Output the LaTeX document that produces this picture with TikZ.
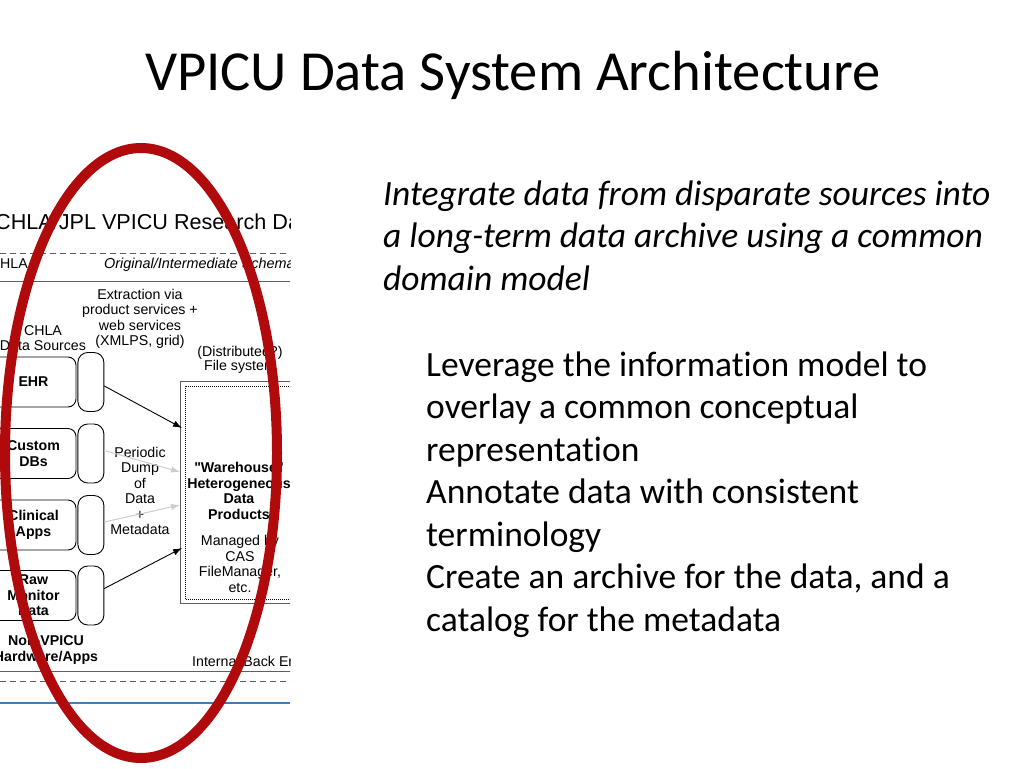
\documentclass[tikz,border=0pt]{standalone}
\usepackage{fontspec}
\setmainfont{Carlito}[Ligatures=NoCommon]
\newfontfamily\diagfont{Liberation Sans}
\usetikzlibrary{arrows.meta, positioning, calc}
\definecolor{ovalred}{RGB}{176,10,12}
\definecolor{rulegray}{RGB}{95,95,95}
\definecolor{dumpgray}{RGB}{205,205,205}
\definecolor{barblue}{RGB}{62,126,182}

\begin{document}
\begin{tikzpicture}[x=1pt,y=-1pt,line cap=round,line join=round,
  every node/.style={inner sep=0pt},
  dtext/.style={font=\diagfont\fontsize{14.2}{15.5}\selectfont, align=center},
  dbold/.style={font=\diagfont\bfseries\fontsize{14.2}{15.5}\selectfont, align=center},
  srcbox/.style={draw, rounded corners=8pt, line width=0.9pt,
    minimum width=85pt, minimum height=50pt},
  capsule/.style={draw, rounded corners=10pt, line width=0.9pt,
    minimum width=26pt, minimum height=59pt},
  rule/.style={rulegray, line width=1pt},
  slidetext/.style={font=\fontsize{35.5}{42.5}\selectfont, align=left, anchor=base west},
  >={Latex[length=9pt,width=6.5pt]}]
  \useasboundingbox (0,0) rectangle (1024,768);
  % ---- slide title and text (base = last line) ---------------------------
  \node[font=\fontsize{56.6}{68}\selectfont, anchor=base west] (title) at (145,90)
    {VPICU Data System Architecture};
  \node[slidetext, font=\itshape\fontsize{35.5}{42.5}\selectfont] (goal) at (383,290)
    {Integrate data from disparate sources into\\
     a long-term data archive using a common\\
     domain model};
  \node[slidetext] (points) at (426,631)
    {Leverage the information model to\\
     overlay a common conceptual\\
     representation\\
     Annotate data with consistent\\
     terminology\\
     Create an archive for the data, and a\\
     catalog for the metadata};
  % ---- cropped architecture figure ---------------------------------------
  \begin{scope}
    \clip (0,0) rectangle (290,768);
    \node[font=\diagfont\fontsize{21.6}{25}\selectfont, anchor=base west] (figtitle)
      at (-5,229) {CHLA/JPL VPICU Research Data System};
    \draw[rule, dash pattern=on 6pt off 4pt, line cap=butt] (0,253) -- (290,253);
    \node[dtext, anchor=base west] (chlahead) at (-10.3,268) {CHLA};
    \node[dtext, font=\diagfont\itshape\fontsize{14.4}{15.5}\selectfont, anchor=base west]
      (schema) at (104,268) {Original/Intermediate Schema};
    \draw[rule] (0,281) -- (290,281);
    \node[dtext] (extract) at (140,319)
      {Extraction via\\product services +\\web services\\(XMLPS, grid)};
    \node[dtext] (sources) at (43,338) {CHLA\\Data Sources};
    \node[dtext, font=\diagfont\fontsize{14.2}{14.5}\selectfont] (fs) at (240,360)
      {(Distributed?)\\File system};
    % sources with their adapters
    \foreach \nm/\yy/\txt in {ehr/382/EHR, cdb/453.5/{Custom\\DBs},
        capp/525/{Clinical\\Apps}, rmd/595.5/{Raw\\Monitor\\Data}} {
      \node[srcbox, dbold] (\nm) at (33.5,\yy) {\txt};
      \node[capsule, right=1pt of \nm] (\nm cap) {};
    }
    \node[dbold] (nonvpicu) at (46,650) {Non-VPICU\\Hardware/Apps};
    % warehouse
    \node[draw, rulegray, line width=1pt, anchor=north west,
      minimum width=140pt, minimum height=222pt] (wh) at (180,381) {};
    \draw[densely dotted, line width=1pt, line cap=butt]
      ($(wh.south east)+(0,-5)$) -| ($(wh.north west)+(5,5)$) -- ($(wh.north east)+(0,5)$);
    \node[dbold] (whtext) at (239,491)
      {"Warehouse"\\Heterogeneous\\Data\\Products};
    \node[dtext] (cas) at (240,564) {Managed by\\CAS\\FileManager,\\etc.};
    \coordinate (whin1) at ($(wh.north west)+(2,47)$);
    \coordinate (whin2) at ($(wh.north west)+(0,91)$);
    \coordinate (whin3) at ($(wh.north west)+(0,124)$);
    \coordinate (whin4) at ($(wh.north west)+(2,167)$);
    \node[dtext] (dump) at (140,491) {Periodic\\Dump\\of\\Data\\+\\Metadata};
    \draw[->, line width=0.9pt] ($(ehrcap.east)+(0,4)$) -- (whin1);
    \draw[->, dumpgray, line width=1pt] ($(cdbcap.east)+(0,-3)$) -- (whin2);
    \draw[->, dumpgray, line width=1pt] ($(cappcap.east)+(0,-3)$) -- (whin3);
    \draw[->, line width=0.9pt] ($(rmdcap.east)+(0,-7)$) -- (whin4);
    \node[dtext, anchor=base west] (backend) at (192,666) {Internal Back End};
    \draw[rule] (0,671) -- (290,671);
    \draw[rule, dash pattern=on 6pt off 4pt, line cap=butt] (0,681) -- (290,681);
    \draw[barblue, line width=2.6pt, line cap=butt] (0,703) -- (290,703);
  \end{scope}
  % ---- highlight oval ----------------------------------------------------
  \draw[ovalred, line width=10pt] (141,453) ellipse[x radius=136, y radius=305];
\end{tikzpicture}
\end{document}
